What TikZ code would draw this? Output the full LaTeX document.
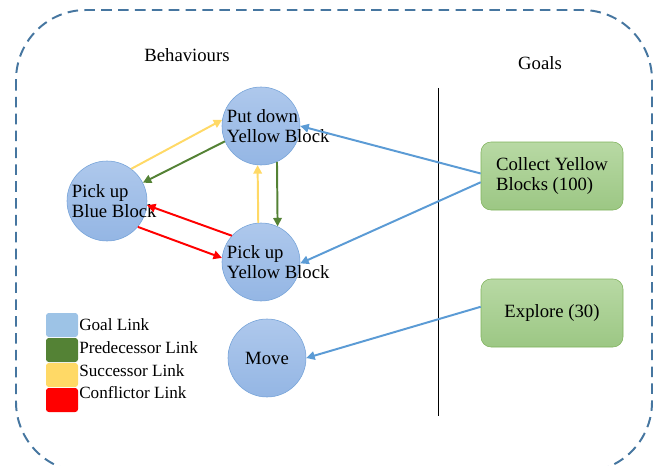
\documentclass[tikz,border=0pt]{standalone}
\usepackage{fontspec}
\setmainfont{Liberation Serif}
\usetikzlibrary{arrows.meta}
\definecolor{circfill}{RGB}{174,200,236}
\definecolor{circshade}{RGB}{148,182,228}
\definecolor{circline}{RGB}{116,162,216}
\definecolor{goalfill}{RGB}{184,217,164}
\definecolor{goalshade}{RGB}{156,199,132}
\definecolor{goalline}{RGB}{127,178,92}
\definecolor{goallink}{RGB}{91,155,213}
\definecolor{goalleg}{RGB}{157,195,230}
\definecolor{predlink}{RGB}{84,130,53}
\definecolor{succlink}{RGB}{255,217,102}
\definecolor{conflink}{RGB}{255,0,0}
\definecolor{frame}{RGB}{70,118,160}
\tikzset{behav/.style={circle, draw=circline, top color=circfill, bottom color=circshade,
    minimum size=1.95cm, inner sep=0pt}}
\tikzset{btext/.style={font=\fontsize{13.3}{14.5}\selectfont, align=left, inner sep=0pt}}
\tikzset{goal/.style={rectangle, rounded corners=0.25cm, draw=goalline, top color=goalfill,
    bottom color=goalshade, minimum width=3.55cm, minimum height=1.7cm, align=left,
    font=\fontsize{13.3}{14.5}\selectfont}}
\tikzset{link/.style={line width=1.4pt, -{Triangle[length=6pt,width=6pt]}}}
\tikzset{legbox/.style={rectangle, rounded corners=2pt, minimum width=0.8cm,
    minimum height=0.6cm, inner sep=0pt}}
\tikzset{legtext/.style={anchor=west, inner sep=0pt, font=\fontsize{12.2}{13}\selectfont}}

\begin{document}
\begin{tikzpicture}[x=0.25mm,y=-0.25mm]
    \useasboundingbox (0,0) rectangle (664,465);
    \clip (0,0) rectangle (664,465);
    \draw[frame, line width=1.4pt, dash pattern=on 7.5pt off 4.5pt, rounded corners=1.75cm]
      (16,10) rectangle (652,472);
    \draw[line width=0.6pt] (438,88) -- (438,416);
    \node[btext] (hb) at (187,55) {Behaviours};
    \node[btext] (hg) at (540,63) {Goals};

    \node[behav] (pd) at (261,126) {};
    \node[behav, minimum size=2cm] (bb) at (107,201) {};
    \node[behav] (py) at (261,262) {};
    \node[behav] (mv) at (267,358) {};
    \node[btext, anchor=west] (tpd) at ([xshift=3.5pt]pd.west) {Put down\\Yellow Block};
    \node[btext, anchor=west] (tbb) at ([xshift=3.5pt]bb.west) {Pick up\\Blue Block};
    \node[btext, anchor=west] (tpy) at ([xshift=3.5pt]py.west) {Pick up\\Yellow Block};
    \node[btext] (tmv) at (mv) {Move};

    \node[goal] (cy) at (552,176) {Collect Yellow\\Blocks (100)};
    \node[goal] (ex) at (552,313) {Explore (30)};

    \draw[link, succlink] (bb.53) -- (pd.171);
    \draw[link, predlink] (pd.203) -- (bb.27);
    \draw[link, succlink] (py.94) -- (pd.265);
    \draw[link, predlink] (pd.294) -- (py.65);
    \draw[link, conflink] (py.138) -- (bb.354);
    \draw[link, conflink] (bb.320) -- (py.174);
    \draw[link, goallink] (cy.178) -- (pd.0);
    \draw[link, goallink] (cy.185) -- (py.358);
    \draw[link, goallink] (ex.175) -- (mv.0);

    \node[legbox, fill=goalleg] (lg) at (62,325) {};
    \node[legbox, fill=predlink] (lp) at (62,350) {};
    \node[legbox, fill=succlink] (ls) at (62,375) {};
    \node[legbox, fill=conflink] (lc) at (62,400) {};
    \node[legtext] (tlg) at (79,325) {Goal Link};
    \node[legtext] (tlp) at (79,348) {Predecessor Link};
    \node[legtext] (tls) at (79,371) {Successor Link};
    \node[legtext] (tlc) at (79,393) {Conflictor Link};
  \end{tikzpicture}
\end{document}
